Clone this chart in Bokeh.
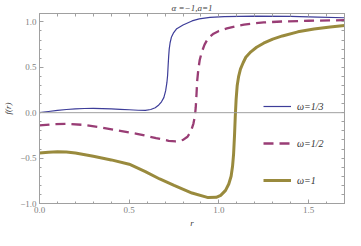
from bokeh.plotting import figure
from bokeh.models import (LinearAxis, FixedTicker, Span, Legend, LegendItem, Title, Range1d)
from bokeh.embed import file_html
from bokeh.resources import INLINE

# ---- data ----
r_third = [0, 0.05, 0.1, 0.15, 0.2, 0.25, 0.3, 0.35, 0.4, 0.45, 0.5, 0.55, 0.59, 0.62, 0.645, 0.665,
           0.68, 0.693, 0.703, 0.71, 0.714, 0.717, 0.72, 0.723, 0.728, 0.735, 0.746, 0.765, 0.8, 0.85,
           0.89, 0.95, 1.03, 1.2, 1.4, 1.55, 1.7]
f_third = [0, 0.013, 0.025, 0.035, 0.042, 0.046, 0.047, 0.045, 0.042, 0.037, 0.032, 0.027, 0.026, 0.035,
           0.055, 0.085, 0.12, 0.166, 0.24, 0.33, 0.41, 0.52, 0.62, 0.7, 0.77, 0.83, 0.875, 0.925, 0.965,
           1.01, 1.032, 1.05, 1.058, 1.064, 1.06, 1.052, 1.045]

r_half = [0, 0.07, 0.15, 0.25, 0.35, 0.45, 0.55, 0.65, 0.72, 0.76, 0.8, 0.825, 0.845, 0.858, 0.866,
          0.871, 0.875, 0.879, 0.885, 0.893, 0.905, 0.92, 0.94, 0.97, 1.0, 1.045, 1.1, 1.14, 1.2, 1.25,
          1.35, 1.5, 1.7]
f_half = [-0.14, -0.128, -0.123, -0.135, -0.165, -0.2, -0.235, -0.28, -0.31, -0.317, -0.3, -0.265, -0.2,
          -0.12, -0.04, 0.06, 0.2, 0.35, 0.47, 0.58, 0.67, 0.75, 0.82, 0.87, 0.9, 0.928, 0.955, 0.97, 0.985,
          0.994, 1.004, 1.012, 1.018]

r_one = [0, 0.05, 0.1, 0.15, 0.2, 0.3, 0.4, 0.5, 0.59, 0.67, 0.75, 0.85, 0.94, 0.985, 1.01, 1.037,
         1.055, 1.068, 1.076, 1.082, 1.087, 1.091, 1.096, 1.102, 1.11, 1.12, 1.135, 1.15, 1.178, 1.21,
         1.249, 1.3, 1.354, 1.44, 1.53, 1.62, 1.7]
f_one = [-0.444, -0.435, -0.43, -0.433, -0.445, -0.48, -0.52, -0.567, -0.65, -0.73, -0.8, -0.885, -0.935,
         -0.932, -0.91, -0.856, -0.785, -0.7, -0.59, -0.45, -0.25, -0.05, 0.15, 0.3, 0.4, 0.48, 0.55, 0.61,
         0.67, 0.72, 0.765, 0.81, 0.845, 0.89, 0.922, 0.943, 0.959]

labels = ["\u03c9=1/3", "\u03c9=1/2", "\u03c9=1"]
x_ticks = [0, 0.5, 1.0, 1.5]
x_tick_labels = ["0.0", "0.5", "1.0", "1.5"]
y_ticks = [-1.0, -0.5, 0.0, 0.5, 1.0]
y_tick_labels = ["\u22121.0", "\u22120.5", "0.0", "0.5", "1.0"]
x_minor = [round(0.1 * i, 2) for i in range(0, 18)]
y_minor = [round(-1.0 + 0.1 * i, 2) for i in range(0, 22)]

SERIF = "Liberation Serif"
GRAY = "#a0a0a0"
TXT = "#808080"

p = figure(width=345, height=230, output_backend="svg", toolbar_location=None,
           x_range=Range1d(0, 1.7), y_range=Range1d(-1.0, 1.092),
           x_axis_type=None, y_axis_type=None,
           min_border_left=31, min_border_right=1, min_border_top=9, min_border_bottom=27)
p.grid.visible = False
p.outline_line_color = GRAY
p.background_fill_color = "white"
p.border_fill_color = "white"

def base_axis(ax):
    ax.axis_line_color = GRAY
    ax.major_tick_line_color = GRAY
    ax.minor_tick_line_color = GRAY
    ax.major_tick_in = 4
    ax.major_tick_out = 0
    ax.minor_tick_in = 2
    ax.minor_tick_out = 0

def label_axis(ax, ticks, minor, labels_):
    ax.ticker = FixedTicker(ticks=ticks, minor_ticks=minor)
    ax.major_label_overrides = {t: l for t, l in zip(ticks, labels_)}
    base_axis(ax)
    ax.major_label_text_font = SERIF
    ax.major_label_text_font_size = "9px"
    ax.major_label_text_color = TXT
    ax.major_label_standoff = 3
    ax.axis_label_text_font = SERIF
    ax.axis_label_text_font_style = "italic"
    ax.axis_label_text_font_size = "9px"
    ax.axis_label_text_color = "#404040"

def tick_only_axis(ax, ticks, minor):
    # frame ticks on the opposite sides, no labels
    ax.ticker = FixedTicker(ticks=[], minor_ticks=sorted(set(minor) | set(ticks)))
    base_axis(ax)
    ax.minor_tick_in = 3

xb = LinearAxis()
label_axis(xb, x_ticks, x_minor, x_tick_labels)
p.add_layout(xb, "below")

yl = LinearAxis(axis_label="f(r)")
label_axis(yl, y_ticks, y_minor, y_tick_labels)
yl.axis_label_standoff = 4
p.add_layout(yl, "left")

xt = LinearAxis()
tick_only_axis(xt, x_ticks, x_minor)
p.add_layout(xt, "above")

yr = LinearAxis()
tick_only_axis(yr, y_ticks, y_minor)
p.add_layout(yr, "right")

p.add_layout(Title(text="\u03b1 =\u22121,a=1", align="center", text_font=SERIF,
                   text_font_style="italic", text_font_size="9px", text_color="#404040",
                   standoff=1, offset=-10), "above")

# x-axis title as a title in the panel below the axis
p.add_layout(Title(text="r", align="center", text_font=SERIF, text_font_style="italic",
                   text_font_size="9px", text_color="#404040", standoff=0), "below")

p.add_layout(Span(location=0, dimension="width", line_color=GRAY, line_width=1))

r1 = p.line(r_third, f_third, line_color="#3d3d99", line_width=1.2)
r2 = p.line(r_half, f_half, line_color="#993d75", line_width=2.3, line_dash="10 6")
r3 = p.line(r_one, f_one, line_color="#998a3d", line_width=3)

legend = Legend(items=[LegendItem(label=labels[0], renderers=[r1]),
                       LegendItem(label=labels[1], renderers=[r2]),
                       LegendItem(label=labels[2], renderers=[r3])],
                location=(224, 13), orientation="vertical",
                border_line_color=None, background_fill_alpha=0,
                padding=0, margin=0, spacing=17,
                glyph_width=28, glyph_height=20, label_height=20, label_standoff=6,
                label_text_font=SERIF, label_text_font_style="italic",
                label_text_font_size="10px", label_text_color="#303030")
p.add_layout(legend, "center")

open("out.html", "w").write(file_html(p, INLINE))
